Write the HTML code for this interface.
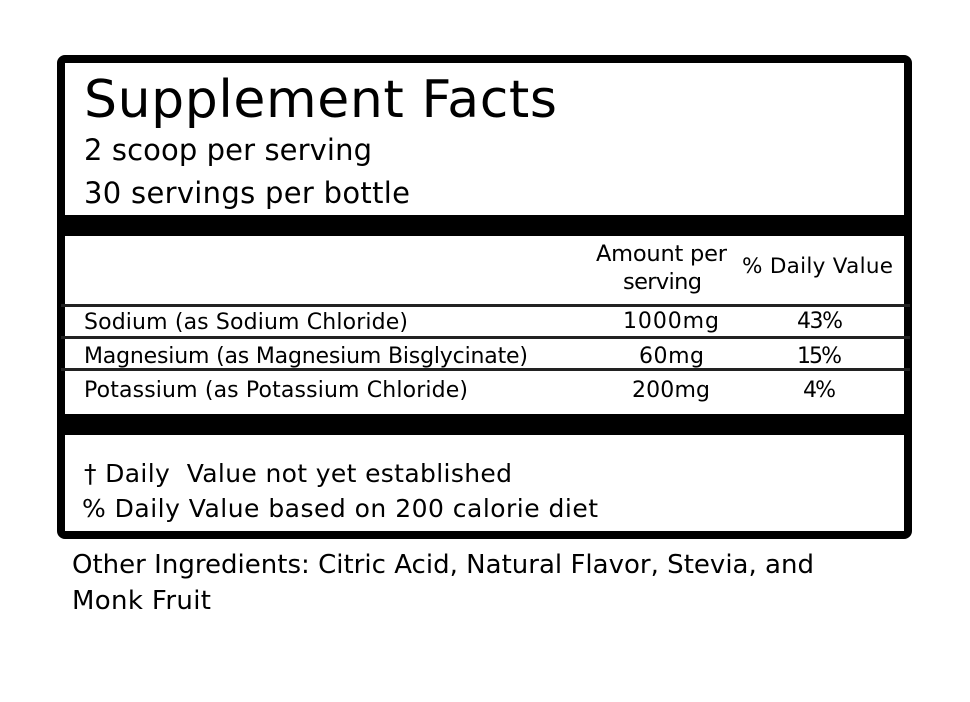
<!DOCTYPE html>
<html>
<head>
<meta charset="utf-8">
<style>
  html, body { margin:0; padding:0; background:#fff; }
  svg { display:block; }
  text { font-family: "DejaVu Sans", "Liberation Sans", sans-serif; fill:#000; white-space:pre; }
</style>
</head>
<body>
<svg width="970" height="702" viewBox="0 0 970 702" xmlns="http://www.w3.org/2000/svg">
  <rect x="0" y="0" width="970" height="702" fill="#fff"/>
  <!-- outer border -->
  <rect x="61" y="59" width="847" height="476" rx="4" ry="4" fill="none" stroke="#000" stroke-width="8"/>
  <!-- thick bars -->
  <rect x="57" y="215" width="855" height="21" fill="#000"/>
  <rect x="57" y="414" width="855" height="21" fill="#000"/>
  <!-- row lines -->
  <rect x="61" y="304" width="849" height="3" fill="#222"/>
  <rect x="61" y="336" width="849" height="3" fill="#222"/>
  <rect x="61" y="368" width="849" height="3" fill="#222"/>

  <!-- header -->
  <text x="84" y="117" font-size="52" textLength="473" lengthAdjust="spacing">Supplement Facts</text>
  <text x="84" y="160" font-size="29" textLength="288" lengthAdjust="spacing">2 scoop per serving</text>
  <text x="84" y="203" font-size="29" textLength="326" lengthAdjust="spacing">30 servings per bottle</text>

  <!-- table header -->
  <text x="596" y="261" font-size="22.5" textLength="131" lengthAdjust="spacing">Amount per</text>
  <text x="623" y="289" font-size="22.5" textLength="79" lengthAdjust="spacing">serving</text>
  <text x="742" y="273" font-size="21.5" textLength="151" lengthAdjust="spacing">% Daily Value</text>

  <!-- rows -->
  <text x="84" y="329" font-size="22" textLength="324" lengthAdjust="spacing">Sodium (as Sodium Chloride)</text>
  <text x="623" y="328" font-size="22" textLength="96" lengthAdjust="spacing">1000mg</text>
  <text x="797" y="328" font-size="22" textLength="46" lengthAdjust="spacing">43%</text>

  <text x="84" y="363" font-size="22" textLength="444" lengthAdjust="spacing">Magnesium (as Magnesium Bisglycinate)</text>
  <text x="639" y="363" font-size="22" textLength="65" lengthAdjust="spacing">60mg</text>
  <text x="797" y="363" font-size="22" textLength="45" lengthAdjust="spacing">15%</text>

  <text x="84" y="397" font-size="22" textLength="384" lengthAdjust="spacing">Potassium (as Potassium Chloride)</text>
  <text x="632" y="397" font-size="22" textLength="78" lengthAdjust="spacing">200mg</text>
  <text x="803" y="397" font-size="22" textLength="33" lengthAdjust="spacing">4%</text>

  <!-- footer -->
  <text x="84" y="482" font-size="25" textLength="428" lengthAdjust="spacing">† Daily  Value not yet established</text>
  <text x="82" y="517" font-size="25" textLength="516" lengthAdjust="spacing">% Daily Value based on 200 calorie diet</text>

  <!-- other ingredients -->
  <text x="72" y="573" font-size="26" textLength="742" lengthAdjust="spacing">Other Ingredients: Citric Acid, Natural Flavor, Stevia, and</text>
  <text x="72" y="609" font-size="26" textLength="139" lengthAdjust="spacing">Monk Fruit</text>
</svg>
</body>
</html>
